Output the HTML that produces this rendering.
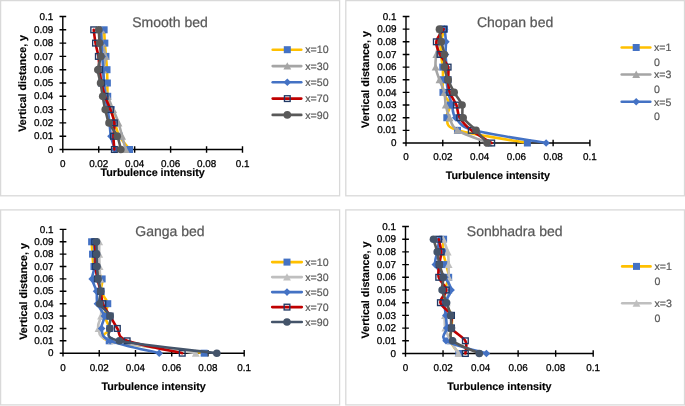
<!DOCTYPE html>
<html><head><meta charset="utf-8"><title>Turbulence intensity charts</title>
<style>
html,body{margin:0;padding:0;background:#fff;}
body{width:685px;height:406px;overflow:hidden;}
svg{display:block;will-change:transform;}
text{font-family:"Liberation Sans", sans-serif;}
</style></head><body>
<svg width="685" height="406" viewBox="0 0 685 406" font-family="Liberation Sans, sans-serif" text-rendering="geometricPrecision">
<rect width="685" height="406" fill="#fff"/>
<rect x="0.6" y="0.6" width="339" height="195.2" fill="none" stroke="#D9D9D9" stroke-width="1.3"/>
<text x="170" y="26.8" text-anchor="middle" font-size="14.0" fill="#595959" stroke="#595959" stroke-width="0.25">Smooth bed</text>
<path d="M62.8 16.5V149.5M62.8 149.5H242.5M59.5 149.5H66.2M59.5 136.2H66.2M59.5 122.9H66.2M59.5 109.6H66.2M59.5 96.3H66.2M59.5 83H66.2M59.5 69.7H66.2M59.5 56.4H66.2M59.5 43.1H66.2M59.5 29.8H66.2M59.5 16.5H66.2M62.8 146.3V152.7M98.74 146.3V152.7M134.68 146.3V152.7M170.62 146.3V152.7M206.56 146.3V152.7M242.5 146.3V152.7" stroke="#000000" stroke-width="1.4" fill="none"/>
<text transform="translate(53.2 152.64) scale(1.0 1)" text-anchor="end" font-size="9.9" stroke="#000" stroke-width="0.28">0</text>
<text transform="translate(53.2 139.34) scale(1.0 1)" text-anchor="end" font-size="9.9" stroke="#000" stroke-width="0.28">0.01</text>
<text transform="translate(53.2 126.04) scale(1.0 1)" text-anchor="end" font-size="9.9" stroke="#000" stroke-width="0.28">0.02</text>
<text transform="translate(53.2 112.74) scale(1.0 1)" text-anchor="end" font-size="9.9" stroke="#000" stroke-width="0.28">0.03</text>
<text transform="translate(53.2 99.44) scale(1.0 1)" text-anchor="end" font-size="9.9" stroke="#000" stroke-width="0.28">0.04</text>
<text transform="translate(53.2 86.14) scale(1.0 1)" text-anchor="end" font-size="9.9" stroke="#000" stroke-width="0.28">0.05</text>
<text transform="translate(53.2 72.84) scale(1.0 1)" text-anchor="end" font-size="9.9" stroke="#000" stroke-width="0.28">0.06</text>
<text transform="translate(53.2 59.54) scale(1.0 1)" text-anchor="end" font-size="9.9" stroke="#000" stroke-width="0.28">0.07</text>
<text transform="translate(53.2 46.24) scale(1.0 1)" text-anchor="end" font-size="9.9" stroke="#000" stroke-width="0.28">0.08</text>
<text transform="translate(53.2 32.94) scale(1.0 1)" text-anchor="end" font-size="9.9" stroke="#000" stroke-width="0.28">0.09</text>
<text transform="translate(53.2 19.64) scale(1.0 1)" text-anchor="end" font-size="9.9" stroke="#000" stroke-width="0.28">0.1</text>
<text transform="translate(62.8 166.99) scale(1.0 1)" text-anchor="middle" font-size="9.9" stroke="#000" stroke-width="0.28">0</text>
<text transform="translate(98.74 166.99) scale(1.0 1)" text-anchor="middle" font-size="9.9" stroke="#000" stroke-width="0.28">0.02</text>
<text transform="translate(134.68 166.99) scale(1.0 1)" text-anchor="middle" font-size="9.9" stroke="#000" stroke-width="0.28">0.04</text>
<text transform="translate(170.62 166.99) scale(1.0 1)" text-anchor="middle" font-size="9.9" stroke="#000" stroke-width="0.28">0.06</text>
<text transform="translate(206.56 166.99) scale(1.0 1)" text-anchor="middle" font-size="9.9" stroke="#000" stroke-width="0.28">0.08</text>
<text transform="translate(242.5 166.99) scale(1.0 1)" text-anchor="middle" font-size="9.9" stroke="#000" stroke-width="0.28">0.1</text>
<text x="152.65" y="175.6" text-anchor="middle" font-size="10.75" font-weight="bold" stroke="#000" stroke-width="0.15">Turbulence intensity</text>
<text transform="translate(26.3 83.3) rotate(-90)" text-anchor="middle" font-size="10.75" font-weight="bold" stroke="#000" stroke-width="0.15">Vertical distance, y</text>
<path d="M129.65 149.5C127.94 147.28 121.86 140.63 119.41 136.2C116.95 131.77 116.26 127.33 114.91 122.9C113.57 118.47 112.52 114.03 111.32 109.6C110.12 105.17 108.38 100.73 107.72 96.3C107.07 91.87 107.49 87.43 107.37 83C107.25 78.57 107.25 74.13 107.01 69.7C106.77 65.27 106.29 60.83 105.93 56.4C105.57 51.97 105.15 47.53 104.85 43.1C104.55 38.67 104.25 32.02 104.13 29.8" stroke="#FFC000" stroke-width="2.6" fill="none" stroke-linejoin="round" stroke-linecap="round"/>
<rect x="126.15" y="146" width="7" height="7" fill="#4472C4"/>
<rect x="115.91" y="132.7" width="7" height="7" fill="#4472C4"/>
<rect x="111.41" y="119.4" width="7" height="7" fill="#4472C4"/>
<rect x="107.82" y="106.1" width="7" height="7" fill="#4472C4"/>
<rect x="104.22" y="92.8" width="7" height="7" fill="#4472C4"/>
<rect x="103.87" y="79.5" width="7" height="7" fill="#4472C4"/>
<rect x="103.51" y="66.2" width="7" height="7" fill="#4472C4"/>
<rect x="102.43" y="52.9" width="7" height="7" fill="#4472C4"/>
<rect x="101.35" y="39.6" width="7" height="7" fill="#4472C4"/>
<rect x="100.63" y="26.3" width="7" height="7" fill="#4472C4"/>
<path d="M125.69 149.5C125.1 147.28 123.3 140.63 122.1 136.2C120.9 131.77 120 127.33 118.51 122.9C117.01 118.47 114.91 114.03 113.12 109.6C111.32 105.17 109.34 100.73 107.72 96.3C106.11 91.87 104.16 87.43 103.41 83C102.66 78.57 102.87 74.13 103.23 69.7C103.59 65.27 105.72 60.83 105.57 56.4C105.42 51.97 103.02 47.53 102.33 43.1C101.65 38.67 101.59 32.02 101.44 29.8" stroke="#A5A5A5" stroke-width="2.6" fill="none" stroke-linejoin="round" stroke-linecap="round"/>
<path d="M125.69 145.6L129.59 153L121.79 153Z" fill="#A5A5A5"/>
<path d="M122.1 132.3L126 139.7L118.2 139.7Z" fill="#A5A5A5"/>
<path d="M118.51 119L122.41 126.4L114.61 126.4Z" fill="#A5A5A5"/>
<path d="M113.12 105.7L117.02 113.1L109.22 113.1Z" fill="#A5A5A5"/>
<path d="M107.72 92.4L111.62 99.8L103.82 99.8Z" fill="#A5A5A5"/>
<path d="M103.41 79.1L107.31 86.5L99.51 86.5Z" fill="#A5A5A5"/>
<path d="M103.23 65.8L107.13 73.2L99.33 73.2Z" fill="#A5A5A5"/>
<path d="M105.57 52.5L109.47 59.9L101.67 59.9Z" fill="#A5A5A5"/>
<path d="M102.33 39.2L106.23 46.6L98.43 46.6Z" fill="#A5A5A5"/>
<path d="M101.44 25.9L105.34 33.3L97.54 33.3Z" fill="#A5A5A5"/>
<path d="M114.91 149.5C114.25 147.28 111.86 140.63 110.96 136.2C110.06 131.77 110.06 127.33 109.52 122.9C108.98 118.47 108.47 114.03 107.72 109.6C106.98 105.17 105.63 100.73 105.03 96.3C104.43 91.87 104.43 87.43 104.13 83C103.83 78.57 103.53 74.13 103.23 69.7C102.93 65.27 102.63 60.83 102.33 56.4C102.03 51.97 101.73 47.53 101.44 43.1C101.14 38.67 100.69 32.02 100.54 29.8" stroke="#4472C4" stroke-width="2.6" fill="none" stroke-linejoin="round" stroke-linecap="round"/>
<path d="M114.91 145.7L118.71 149.5L114.91 153.3L111.11 149.5Z" fill="#4472C4"/>
<path d="M110.96 132.4L114.76 136.2L110.96 140L107.16 136.2Z" fill="#4472C4"/>
<path d="M109.52 119.1L113.32 122.9L109.52 126.7L105.72 122.9Z" fill="#4472C4"/>
<path d="M107.72 105.8L111.52 109.6L107.72 113.4L103.92 109.6Z" fill="#4472C4"/>
<path d="M105.03 92.5L108.83 96.3L105.03 100.1L101.23 96.3Z" fill="#4472C4"/>
<path d="M104.13 79.2L107.93 83L104.13 86.8L100.33 83Z" fill="#4472C4"/>
<path d="M103.23 65.9L107.03 69.7L103.23 73.5L99.43 69.7Z" fill="#4472C4"/>
<path d="M102.33 52.6L106.13 56.4L102.33 60.2L98.53 56.4Z" fill="#4472C4"/>
<path d="M101.44 39.3L105.24 43.1L101.44 46.9L97.64 43.1Z" fill="#4472C4"/>
<path d="M100.54 26L104.34 29.8L100.54 33.6L96.74 29.8Z" fill="#4472C4"/>
<path d="M114.37 149.5C114.22 147.28 113.48 140.63 113.48 136.2C113.48 131.77 114.88 127.33 114.37 122.9C113.86 118.47 111.98 114.03 110.42 109.6C108.86 105.17 106.53 100.73 105.03 96.3C103.53 91.87 102.33 87.43 101.44 83C100.54 78.57 100.15 74.13 99.64 69.7C99.13 65.27 99.07 60.83 98.38 56.4C97.69 51.97 96.28 47.53 95.51 43.1C94.73 38.67 94.01 32.02 93.71 29.8" stroke="#C00000" stroke-width="2.6" fill="none" stroke-linejoin="round" stroke-linecap="round"/>
<rect x="111.52" y="146.65" width="5.7" height="5.7" fill="none" stroke="#203864" stroke-width="1.35"/>
<rect x="110.63" y="133.35" width="5.7" height="5.7" fill="none" stroke="#203864" stroke-width="1.35"/>
<rect x="111.52" y="120.05" width="5.7" height="5.7" fill="none" stroke="#203864" stroke-width="1.35"/>
<rect x="107.57" y="106.75" width="5.7" height="5.7" fill="none" stroke="#203864" stroke-width="1.35"/>
<rect x="102.18" y="93.45" width="5.7" height="5.7" fill="none" stroke="#203864" stroke-width="1.35"/>
<rect x="98.59" y="80.15" width="5.7" height="5.7" fill="none" stroke="#203864" stroke-width="1.35"/>
<rect x="96.79" y="66.85" width="5.7" height="5.7" fill="none" stroke="#203864" stroke-width="1.35"/>
<rect x="95.53" y="53.55" width="5.7" height="5.7" fill="none" stroke="#203864" stroke-width="1.35"/>
<rect x="92.66" y="40.25" width="5.7" height="5.7" fill="none" stroke="#203864" stroke-width="1.35"/>
<rect x="90.86" y="26.95" width="5.7" height="5.7" fill="none" stroke="#203864" stroke-width="1.35"/>
<path d="M120.84 149.5C120.24 147.28 119.23 140.63 117.25 136.2C115.27 131.77 110.99 127.33 108.98 122.9C106.98 118.47 106.26 114.03 105.21 109.6C104.16 105.17 103.47 100.73 102.69 96.3C101.91 91.87 101.35 87.43 100.54 83C99.73 78.57 97.78 74.13 97.84 69.7C97.9 65.27 100.6 60.83 100.9 56.4C101.2 51.97 100 47.53 99.64 43.1C99.28 38.67 98.89 32.02 98.74 29.8" stroke="#595959" stroke-width="2.6" fill="none" stroke-linejoin="round" stroke-linecap="round"/>
<circle cx="120.84" cy="149.5" r="3.8" fill="#595959"/>
<circle cx="117.25" cy="136.2" r="3.8" fill="#595959"/>
<circle cx="108.98" cy="122.9" r="3.8" fill="#595959"/>
<circle cx="105.21" cy="109.6" r="3.8" fill="#595959"/>
<circle cx="102.69" cy="96.3" r="3.8" fill="#595959"/>
<circle cx="100.54" cy="83" r="3.8" fill="#595959"/>
<circle cx="97.84" cy="69.7" r="3.8" fill="#595959"/>
<circle cx="100.9" cy="56.4" r="3.8" fill="#595959"/>
<circle cx="99.64" cy="43.1" r="3.8" fill="#595959"/>
<circle cx="98.74" cy="29.8" r="3.8" fill="#595959"/>
<path d="M272.7 49.7H301.3" stroke="#FFC000" stroke-width="2.6" stroke-linecap="round"/>
<rect x="283.8" y="46.2" width="7" height="7" fill="#4472C4"/>
<text x="305.3" y="53.49" font-size="10.6" fill="#595959" stroke="#595959" stroke-width="0.2">x=10</text>
<path d="M272.7 66.1H301.3" stroke="#A5A5A5" stroke-width="2.6" stroke-linecap="round"/>
<path d="M287.3 62.2L291.2 69.6L283.4 69.6Z" fill="#A5A5A5"/>
<text x="305.3" y="69.89" font-size="10.6" fill="#595959" stroke="#595959" stroke-width="0.2">x=30</text>
<path d="M272.7 82.3H301.3" stroke="#4472C4" stroke-width="2.6" stroke-linecap="round"/>
<path d="M287.3 78.5L291.1 82.3L287.3 86.1L283.5 82.3Z" fill="#4472C4"/>
<text x="305.3" y="86.09" font-size="10.6" fill="#595959" stroke="#595959" stroke-width="0.2">x=50</text>
<path d="M272.7 98.6H301.3" stroke="#C00000" stroke-width="2.6" stroke-linecap="round"/>
<rect x="284.45" y="95.75" width="5.7" height="5.7" fill="none" stroke="#203864" stroke-width="1.35"/>
<text x="305.3" y="102.39" font-size="10.6" fill="#595959" stroke="#595959" stroke-width="0.2">x=70</text>
<path d="M272.7 114.9H301.3" stroke="#595959" stroke-width="2.6" stroke-linecap="round"/>
<circle cx="287.3" cy="114.9" r="3.8" fill="#595959"/>
<text x="305.3" y="118.69" font-size="10.6" fill="#595959" stroke="#595959" stroke-width="0.2">x=90</text>
<rect x="345.8" y="0.6" width="338.7" height="195.2" fill="none" stroke="#D9D9D9" stroke-width="1.3"/>
<text x="515.1" y="26.8" text-anchor="middle" font-size="14.0" fill="#595959" stroke="#595959" stroke-width="0.25">Chopan bed</text>
<path d="M406 16.5V143M406 143H589.9M402.7 143H409.4M402.7 130.35H409.4M402.7 117.7H409.4M402.7 105.05H409.4M402.7 92.4H409.4M402.7 79.75H409.4M402.7 67.1H409.4M402.7 54.45H409.4M402.7 41.8H409.4M402.7 29.15H409.4M402.7 16.5H409.4M406 139.8V146.2M442.78 139.8V146.2M479.56 139.8V146.2M516.34 139.8V146.2M553.12 139.8V146.2M589.9 139.8V146.2" stroke="#000000" stroke-width="1.4" fill="none"/>
<text transform="translate(396.4 146.14) scale(1.0 1)" text-anchor="end" font-size="9.9" stroke="#000" stroke-width="0.28">0</text>
<text transform="translate(396.4 133.49) scale(1.0 1)" text-anchor="end" font-size="9.9" stroke="#000" stroke-width="0.28">0.01</text>
<text transform="translate(396.4 120.84) scale(1.0 1)" text-anchor="end" font-size="9.9" stroke="#000" stroke-width="0.28">0.02</text>
<text transform="translate(396.4 108.19) scale(1.0 1)" text-anchor="end" font-size="9.9" stroke="#000" stroke-width="0.28">0.03</text>
<text transform="translate(396.4 95.54) scale(1.0 1)" text-anchor="end" font-size="9.9" stroke="#000" stroke-width="0.28">0.04</text>
<text transform="translate(396.4 82.89) scale(1.0 1)" text-anchor="end" font-size="9.9" stroke="#000" stroke-width="0.28">0.05</text>
<text transform="translate(396.4 70.24) scale(1.0 1)" text-anchor="end" font-size="9.9" stroke="#000" stroke-width="0.28">0.06</text>
<text transform="translate(396.4 57.59) scale(1.0 1)" text-anchor="end" font-size="9.9" stroke="#000" stroke-width="0.28">0.07</text>
<text transform="translate(396.4 44.94) scale(1.0 1)" text-anchor="end" font-size="9.9" stroke="#000" stroke-width="0.28">0.08</text>
<text transform="translate(396.4 32.29) scale(1.0 1)" text-anchor="end" font-size="9.9" stroke="#000" stroke-width="0.28">0.09</text>
<text transform="translate(396.4 19.64) scale(1.0 1)" text-anchor="end" font-size="9.9" stroke="#000" stroke-width="0.28">0.1</text>
<text transform="translate(406 159.59) scale(1.0 1)" text-anchor="middle" font-size="9.9" stroke="#000" stroke-width="0.28">0</text>
<text transform="translate(442.78 159.59) scale(1.0 1)" text-anchor="middle" font-size="9.9" stroke="#000" stroke-width="0.28">0.02</text>
<text transform="translate(479.56 159.59) scale(1.0 1)" text-anchor="middle" font-size="9.9" stroke="#000" stroke-width="0.28">0.04</text>
<text transform="translate(516.34 159.59) scale(1.0 1)" text-anchor="middle" font-size="9.9" stroke="#000" stroke-width="0.28">0.06</text>
<text transform="translate(553.12 159.59) scale(1.0 1)" text-anchor="middle" font-size="9.9" stroke="#000" stroke-width="0.28">0.08</text>
<text transform="translate(589.9 159.59) scale(1.0 1)" text-anchor="middle" font-size="9.9" stroke="#000" stroke-width="0.28">0.1</text>
<text x="497.95" y="179" text-anchor="middle" font-size="10.75" font-weight="bold" stroke="#000" stroke-width="0.15">Turbulence intensity</text>
<text transform="translate(369.3 79.5) rotate(-90)" text-anchor="middle" font-size="10.75" font-weight="bold" stroke="#000" stroke-width="0.15">Vertical distance, y</text>
<path d="M527.37 143C515.73 140.89 470.92 134.57 457.49 130.35C444.07 126.13 448.05 121.92 446.83 117.7C445.6 113.48 450.78 109.27 450.14 105.05C449.49 100.83 444.16 96.62 442.96 92.4C441.77 88.18 442.99 83.97 442.96 79.75C442.93 75.53 443.12 71.32 442.78 67.1C442.44 62.88 441.25 58.67 440.94 54.45C440.63 50.23 440.36 46.02 440.94 41.8C441.52 37.58 443.85 31.26 444.44 29.15" stroke="#FFC000" stroke-width="2.6" fill="none" stroke-linejoin="round" stroke-linecap="round"/>
<rect x="523.87" y="139.5" width="7" height="7" fill="#4472C4"/>
<rect x="453.99" y="126.85" width="7" height="7" fill="#4472C4"/>
<rect x="443.33" y="114.2" width="7" height="7" fill="#4472C4"/>
<rect x="446.64" y="101.55" width="7" height="7" fill="#4472C4"/>
<rect x="439.46" y="88.9" width="7" height="7" fill="#4472C4"/>
<rect x="439.46" y="76.25" width="7" height="7" fill="#4472C4"/>
<rect x="439.28" y="63.6" width="7" height="7" fill="#4472C4"/>
<rect x="437.44" y="50.95" width="7" height="7" fill="#4472C4"/>
<rect x="437.44" y="38.3" width="7" height="7" fill="#4472C4"/>
<rect x="440.94" y="25.65" width="7" height="7" fill="#4472C4"/>
<path d="M488.75 143C483.54 140.89 464.02 134.57 457.49 130.35C450.96 126.13 451.55 121.92 449.58 117.7C447.62 113.48 446.58 109.27 445.72 105.05C444.86 100.83 445.48 96.62 444.44 92.4C443.39 88.18 440.94 83.97 439.47 79.75C438 75.53 436.13 71.32 435.61 67.1C435.09 62.88 435.76 58.67 436.34 54.45C436.93 50.23 438.49 46.02 439.1 41.8C439.71 37.58 439.87 31.26 440.02 29.15" stroke="#A5A5A5" stroke-width="2.6" fill="none" stroke-linejoin="round" stroke-linecap="round"/>
<path d="M488.75 139.1L492.65 146.5L484.86 146.5Z" fill="#A5A5A5"/>
<path d="M457.49 126.45L461.39 133.85L453.59 133.85Z" fill="#A5A5A5"/>
<path d="M449.58 113.8L453.48 121.2L445.68 121.2Z" fill="#A5A5A5"/>
<path d="M445.72 101.15L449.62 108.55L441.82 108.55Z" fill="#A5A5A5"/>
<path d="M444.44 88.5L448.34 95.9L440.54 95.9Z" fill="#A5A5A5"/>
<path d="M439.47 75.85L443.37 83.25L435.57 83.25Z" fill="#A5A5A5"/>
<path d="M435.61 63.2L439.51 70.6L431.71 70.6Z" fill="#A5A5A5"/>
<path d="M436.34 50.55L440.24 57.95L432.44 57.95Z" fill="#A5A5A5"/>
<path d="M439.1 37.9L443 45.3L435.2 45.3Z" fill="#A5A5A5"/>
<path d="M440.02 25.25L443.92 32.65L436.12 32.65Z" fill="#A5A5A5"/>
<path d="M546.13 143C534.12 140.89 489.12 134.57 474.04 130.35C458.96 126.13 459.33 121.92 455.65 117.7C451.98 113.48 453.2 109.27 451.98 105.05C450.75 100.83 449.22 96.62 448.3 92.4C447.38 88.18 446.76 83.97 446.46 79.75C446.15 75.53 446.61 71.32 446.46 67.1C446.3 62.88 445.63 58.67 445.54 54.45C445.45 50.23 446.06 46.02 445.91 41.8C445.75 37.58 444.83 31.26 444.62 29.15" stroke="#4472C4" stroke-width="2.6" fill="none" stroke-linejoin="round" stroke-linecap="round"/>
<path d="M546.13 139.2L549.93 143L546.13 146.8L542.33 143Z" fill="#4472C4"/>
<path d="M474.04 126.55L477.84 130.35L474.04 134.15L470.24 130.35Z" fill="#4472C4"/>
<path d="M455.65 113.9L459.45 117.7L455.65 121.5L451.85 117.7Z" fill="#4472C4"/>
<path d="M451.98 101.25L455.78 105.05L451.98 108.85L448.18 105.05Z" fill="#4472C4"/>
<path d="M448.3 88.6L452.1 92.4L448.3 96.2L444.5 92.4Z" fill="#4472C4"/>
<path d="M446.46 75.95L450.26 79.75L446.46 83.55L442.66 79.75Z" fill="#4472C4"/>
<path d="M446.46 63.3L450.26 67.1L446.46 70.9L442.66 67.1Z" fill="#4472C4"/>
<path d="M445.54 50.65L449.34 54.45L445.54 58.25L441.74 54.45Z" fill="#4472C4"/>
<path d="M445.91 38L449.71 41.8L445.91 45.6L442.11 41.8Z" fill="#4472C4"/>
<path d="M444.62 25.35L448.42 29.15L444.62 32.95L440.82 29.15Z" fill="#4472C4"/>
<path d="M491.7 143C488.3 140.89 476.62 134.57 471.28 130.35C465.95 126.13 462.18 121.92 459.7 117.7C457.22 113.48 458.04 109.27 456.39 105.05C454.73 100.83 451.15 96.62 449.77 92.4C448.39 88.18 448.39 83.97 448.11 79.75C447.84 75.53 449.46 71.32 448.11 67.1C446.76 62.88 441.98 58.67 440.02 54.45C438.06 50.23 435.73 46.02 436.34 41.8C436.96 37.58 442.47 31.26 443.7 29.15" stroke="#C00000" stroke-width="2.6" fill="none" stroke-linejoin="round" stroke-linecap="round"/>
<rect x="488.85" y="140.15" width="5.7" height="5.7" fill="none" stroke="#203864" stroke-width="1.35"/>
<rect x="468.43" y="127.5" width="5.7" height="5.7" fill="none" stroke="#203864" stroke-width="1.35"/>
<rect x="456.85" y="114.85" width="5.7" height="5.7" fill="none" stroke="#203864" stroke-width="1.35"/>
<rect x="453.54" y="102.2" width="5.7" height="5.7" fill="none" stroke="#203864" stroke-width="1.35"/>
<rect x="446.92" y="89.55" width="5.7" height="5.7" fill="none" stroke="#203864" stroke-width="1.35"/>
<rect x="445.26" y="76.9" width="5.7" height="5.7" fill="none" stroke="#203864" stroke-width="1.35"/>
<rect x="445.26" y="64.25" width="5.7" height="5.7" fill="none" stroke="#203864" stroke-width="1.35"/>
<rect x="437.17" y="51.6" width="5.7" height="5.7" fill="none" stroke="#203864" stroke-width="1.35"/>
<rect x="433.49" y="38.95" width="5.7" height="5.7" fill="none" stroke="#203864" stroke-width="1.35"/>
<rect x="440.85" y="26.3" width="5.7" height="5.7" fill="none" stroke="#203864" stroke-width="1.35"/>
<path d="M487.1 143C485.26 140.89 480.05 134.57 476.07 130.35C472.08 126.13 465.52 121.92 463.19 117.7C460.86 113.48 463.59 109.27 462.09 105.05C460.59 100.83 456.51 96.62 454.18 92.4C451.85 88.18 449.74 83.97 448.11 79.75C446.49 75.53 445.05 71.32 444.44 67.1C443.82 62.88 444.96 58.67 444.44 54.45C443.91 50.23 442.14 46.02 441.31 41.8C440.48 37.58 439.78 31.26 439.47 29.15" stroke="#595959" stroke-width="2.6" fill="none" stroke-linejoin="round" stroke-linecap="round"/>
<circle cx="487.1" cy="143" r="3.8" fill="#595959"/>
<circle cx="476.07" cy="130.35" r="3.8" fill="#595959"/>
<circle cx="463.19" cy="117.7" r="3.8" fill="#595959"/>
<circle cx="462.09" cy="105.05" r="3.8" fill="#595959"/>
<circle cx="454.18" cy="92.4" r="3.8" fill="#595959"/>
<circle cx="448.11" cy="79.75" r="3.8" fill="#595959"/>
<circle cx="444.44" cy="67.1" r="3.8" fill="#595959"/>
<circle cx="444.44" cy="54.45" r="3.8" fill="#595959"/>
<circle cx="441.31" cy="41.8" r="3.8" fill="#595959"/>
<circle cx="439.47" cy="29.15" r="3.8" fill="#595959"/>
<path d="M621.7 47.5H650.3" stroke="#FFC000" stroke-width="2.6" stroke-linecap="round"/>
<rect x="632.7" y="44" width="7" height="7" fill="#4472C4"/>
<text x="654" y="51.29" font-size="10.6" fill="#595959" stroke="#595959" stroke-width="0.2">x=1</text>
<text x="654" y="66.09" font-size="10.6" fill="#595959" stroke="#595959" stroke-width="0.2">0</text>
<path d="M621.7 74.5H650.3" stroke="#A5A5A5" stroke-width="2.6" stroke-linecap="round"/>
<path d="M636.2 70.6L640.1 78L632.3 78Z" fill="#A5A5A5"/>
<text x="654" y="78.29" font-size="10.6" fill="#595959" stroke="#595959" stroke-width="0.2">x=3</text>
<text x="654" y="93.09" font-size="10.6" fill="#595959" stroke="#595959" stroke-width="0.2">0</text>
<path d="M621.7 101.8H650.3" stroke="#4472C4" stroke-width="2.6" stroke-linecap="round"/>
<path d="M636.2 98L640 101.8L636.2 105.6L632.4 101.8Z" fill="#4472C4"/>
<text x="654" y="105.59" font-size="10.6" fill="#595959" stroke="#595959" stroke-width="0.2">x=5</text>
<text x="654" y="120.39" font-size="10.6" fill="#595959" stroke="#595959" stroke-width="0.2">0</text>
<rect x="0.6" y="209.9" width="339" height="195" fill="none" stroke="#D9D9D9" stroke-width="1.3"/>
<text x="170" y="235.9" text-anchor="middle" font-size="14.0" fill="#595959" stroke="#595959" stroke-width="0.25">Ganga bed</text>
<path d="M63 229.4V353.2M63 353.2H244.2M59.7 353.2H66.4M59.7 340.82H66.4M59.7 328.44H66.4M59.7 316.06H66.4M59.7 303.68H66.4M59.7 291.3H66.4M59.7 278.92H66.4M59.7 266.54H66.4M59.7 254.16H66.4M59.7 241.78H66.4M59.7 229.4H66.4M63 350V356.4M99.24 350V356.4M135.48 350V356.4M171.72 350V356.4M207.96 350V356.4M244.2 350V356.4" stroke="#000000" stroke-width="1.4" fill="none"/>
<text transform="translate(53.4 356.34) scale(1.0 1)" text-anchor="end" font-size="9.9" stroke="#000" stroke-width="0.28">0</text>
<text transform="translate(53.4 343.96) scale(1.0 1)" text-anchor="end" font-size="9.9" stroke="#000" stroke-width="0.28">0.01</text>
<text transform="translate(53.4 331.58) scale(1.0 1)" text-anchor="end" font-size="9.9" stroke="#000" stroke-width="0.28">0.02</text>
<text transform="translate(53.4 319.2) scale(1.0 1)" text-anchor="end" font-size="9.9" stroke="#000" stroke-width="0.28">0.03</text>
<text transform="translate(53.4 306.82) scale(1.0 1)" text-anchor="end" font-size="9.9" stroke="#000" stroke-width="0.28">0.04</text>
<text transform="translate(53.4 294.44) scale(1.0 1)" text-anchor="end" font-size="9.9" stroke="#000" stroke-width="0.28">0.05</text>
<text transform="translate(53.4 282.06) scale(1.0 1)" text-anchor="end" font-size="9.9" stroke="#000" stroke-width="0.28">0.06</text>
<text transform="translate(53.4 269.68) scale(1.0 1)" text-anchor="end" font-size="9.9" stroke="#000" stroke-width="0.28">0.07</text>
<text transform="translate(53.4 257.3) scale(1.0 1)" text-anchor="end" font-size="9.9" stroke="#000" stroke-width="0.28">0.08</text>
<text transform="translate(53.4 244.92) scale(1.0 1)" text-anchor="end" font-size="9.9" stroke="#000" stroke-width="0.28">0.09</text>
<text transform="translate(53.4 232.54) scale(1.0 1)" text-anchor="end" font-size="9.9" stroke="#000" stroke-width="0.28">0.1</text>
<text transform="translate(63 370.69) scale(1.0 1)" text-anchor="middle" font-size="9.9" stroke="#000" stroke-width="0.28">0</text>
<text transform="translate(99.24 370.69) scale(1.0 1)" text-anchor="middle" font-size="9.9" stroke="#000" stroke-width="0.28">0.02</text>
<text transform="translate(135.48 370.69) scale(1.0 1)" text-anchor="middle" font-size="9.9" stroke="#000" stroke-width="0.28">0.04</text>
<text transform="translate(171.72 370.69) scale(1.0 1)" text-anchor="middle" font-size="9.9" stroke="#000" stroke-width="0.28">0.06</text>
<text transform="translate(207.96 370.69) scale(1.0 1)" text-anchor="middle" font-size="9.9" stroke="#000" stroke-width="0.28">0.08</text>
<text transform="translate(244.2 370.69) scale(1.0 1)" text-anchor="middle" font-size="9.9" stroke="#000" stroke-width="0.28">0.1</text>
<text x="153.6" y="389.5" text-anchor="middle" font-size="10.75" font-weight="bold" stroke="#000" stroke-width="0.15">Turbulence intensity</text>
<text transform="translate(26.5 291.4) rotate(-90)" text-anchor="middle" font-size="10.75" font-weight="bold" stroke="#000" stroke-width="0.15">Vertical distance, y</text>
<path d="M204.15 353.2C188.33 351.14 124.94 344.95 109.21 340.82C93.47 336.69 110.5 332.57 109.75 328.44C108.99 324.31 105.01 320.19 104.68 316.06C104.34 311.93 108.36 307.81 107.76 303.68C107.15 299.55 101.99 295.43 101.05 291.3C100.12 287.17 103.32 283.05 102.14 278.92C100.96 274.79 95.59 270.67 93.99 266.54C92.38 262.41 92.93 258.29 92.54 254.16C92.14 250.03 91.78 243.84 91.63 241.78" stroke="#FFC000" stroke-width="2.6" fill="none" stroke-linejoin="round" stroke-linecap="round"/>
<rect x="200.65" y="349.7" width="7" height="7" fill="#4472C4"/>
<rect x="105.71" y="337.32" width="7" height="7" fill="#4472C4"/>
<rect x="106.25" y="324.94" width="7" height="7" fill="#4472C4"/>
<rect x="101.18" y="312.56" width="7" height="7" fill="#4472C4"/>
<rect x="104.26" y="300.18" width="7" height="7" fill="#4472C4"/>
<rect x="97.55" y="287.8" width="7" height="7" fill="#4472C4"/>
<rect x="98.64" y="275.42" width="7" height="7" fill="#4472C4"/>
<rect x="90.49" y="263.04" width="7" height="7" fill="#4472C4"/>
<rect x="89.04" y="250.66" width="7" height="7" fill="#4472C4"/>
<rect x="88.13" y="238.28" width="7" height="7" fill="#4472C4"/>
<path d="M195.82 353.2C181.84 351.14 128.14 344.95 111.92 340.82C95.71 336.69 100.33 332.57 98.52 328.44C96.7 324.31 100.63 320.19 101.05 316.06C101.47 311.93 101.2 307.81 101.05 303.68C100.9 299.55 100.3 295.43 100.15 291.3C99.99 287.17 100.24 283.05 100.15 278.92C100.06 274.79 99.75 270.67 99.6 266.54C99.45 262.41 99.3 258.29 99.24 254.16C99.18 250.03 99.24 243.84 99.24 241.78" stroke="#BFBFBF" stroke-width="2.6" fill="none" stroke-linejoin="round" stroke-linecap="round"/>
<path d="M195.82 349.3L199.72 356.7L191.92 356.7Z" fill="#BFBFBF"/>
<path d="M111.92 336.92L115.82 344.32L108.02 344.32Z" fill="#BFBFBF"/>
<path d="M98.52 324.54L102.42 331.94L94.62 331.94Z" fill="#BFBFBF"/>
<path d="M101.05 312.16L104.95 319.56L97.15 319.56Z" fill="#BFBFBF"/>
<path d="M101.05 299.78L104.95 307.18L97.15 307.18Z" fill="#BFBFBF"/>
<path d="M100.15 287.4L104.05 294.8L96.25 294.8Z" fill="#BFBFBF"/>
<path d="M100.15 275.02L104.05 282.42L96.25 282.42Z" fill="#BFBFBF"/>
<path d="M99.6 262.64L103.5 270.04L95.7 270.04Z" fill="#BFBFBF"/>
<path d="M99.24 250.26L103.14 257.66L95.34 257.66Z" fill="#BFBFBF"/>
<path d="M99.24 237.88L103.14 245.28L95.34 245.28Z" fill="#BFBFBF"/>
<path d="M159.22 353.2C151.03 351.14 119.72 344.95 110.11 340.82C100.51 336.69 102.56 332.57 101.6 328.44C100.63 324.31 105.01 320.19 104.31 316.06C103.62 311.93 98.73 307.81 97.43 303.68C96.13 299.55 97.4 295.43 96.52 291.3C95.65 287.17 92.48 283.05 92.17 278.92C91.87 274.79 94.29 270.67 94.71 266.54C95.13 262.41 94.86 258.29 94.71 254.16C94.56 250.03 93.95 243.84 93.8 241.78" stroke="#4472C4" stroke-width="2.6" fill="none" stroke-linejoin="round" stroke-linecap="round"/>
<path d="M159.22 349.4L163.02 353.2L159.22 357L155.42 353.2Z" fill="#4472C4"/>
<path d="M110.11 337.02L113.91 340.82L110.11 344.62L106.31 340.82Z" fill="#4472C4"/>
<path d="M101.6 324.64L105.4 328.44L101.6 332.24L97.8 328.44Z" fill="#4472C4"/>
<path d="M104.31 312.26L108.11 316.06L104.31 319.86L100.51 316.06Z" fill="#4472C4"/>
<path d="M97.43 299.88L101.23 303.68L97.43 307.48L93.63 303.68Z" fill="#4472C4"/>
<path d="M96.52 287.5L100.32 291.3L96.52 295.1L92.72 291.3Z" fill="#4472C4"/>
<path d="M92.17 275.12L95.97 278.92L92.17 282.72L88.37 278.92Z" fill="#4472C4"/>
<path d="M94.71 262.74L98.51 266.54L94.71 270.34L90.91 266.54Z" fill="#4472C4"/>
<path d="M94.71 250.36L98.51 254.16L94.71 257.96L90.91 254.16Z" fill="#4472C4"/>
<path d="M93.8 237.98L97.6 241.78L93.8 245.58L90 241.78Z" fill="#4472C4"/>
<path d="M182.23 353.2C173.05 351.14 137.96 344.95 127.14 340.82C116.33 336.69 120.2 332.57 117.36 328.44C114.52 324.31 112.53 320.19 110.11 316.06C107.7 311.93 104.43 307.81 102.86 303.68C101.29 299.55 101.6 295.43 100.69 291.3C99.78 287.17 98.27 283.05 97.43 278.92C96.58 274.79 95.92 270.67 95.62 266.54C95.31 262.41 95.77 258.29 95.62 254.16C95.46 250.03 94.86 243.84 94.71 241.78" stroke="#C00000" stroke-width="2.6" fill="none" stroke-linejoin="round" stroke-linecap="round"/>
<rect x="179.38" y="350.35" width="5.7" height="5.7" fill="none" stroke="#203864" stroke-width="1.35"/>
<rect x="124.29" y="337.97" width="5.7" height="5.7" fill="none" stroke="#203864" stroke-width="1.35"/>
<rect x="114.51" y="325.59" width="5.7" height="5.7" fill="none" stroke="#203864" stroke-width="1.35"/>
<rect x="107.26" y="313.21" width="5.7" height="5.7" fill="none" stroke="#203864" stroke-width="1.35"/>
<rect x="100.01" y="300.83" width="5.7" height="5.7" fill="none" stroke="#203864" stroke-width="1.35"/>
<rect x="97.84" y="288.45" width="5.7" height="5.7" fill="none" stroke="#203864" stroke-width="1.35"/>
<rect x="94.58" y="276.07" width="5.7" height="5.7" fill="none" stroke="#203864" stroke-width="1.35"/>
<rect x="92.77" y="263.69" width="5.7" height="5.7" fill="none" stroke="#203864" stroke-width="1.35"/>
<rect x="92.77" y="251.31" width="5.7" height="5.7" fill="none" stroke="#203864" stroke-width="1.35"/>
<rect x="91.86" y="238.93" width="5.7" height="5.7" fill="none" stroke="#203864" stroke-width="1.35"/>
<path d="M216.84 353.2C200.59 351.14 137.2 344.95 119.35 340.82C101.5 336.69 111.29 332.57 109.75 328.44C108.21 324.31 111.77 320.19 110.11 316.06C108.45 311.93 101.35 307.81 99.78 303.68C98.21 299.55 100.96 295.43 100.69 291.3C100.42 287.17 98.76 283.05 98.15 278.92C97.55 274.79 97.31 270.67 97.07 266.54C96.82 262.41 96.79 258.29 96.7 254.16C96.61 250.03 96.55 243.84 96.52 241.78" stroke="#44546A" stroke-width="2.6" fill="none" stroke-linejoin="round" stroke-linecap="round"/>
<circle cx="216.84" cy="353.2" r="3.8" fill="#44546A"/>
<circle cx="119.35" cy="340.82" r="3.8" fill="#44546A"/>
<circle cx="109.75" cy="328.44" r="3.8" fill="#44546A"/>
<circle cx="110.11" cy="316.06" r="3.8" fill="#44546A"/>
<circle cx="99.78" cy="303.68" r="3.8" fill="#44546A"/>
<circle cx="100.69" cy="291.3" r="3.8" fill="#44546A"/>
<circle cx="98.15" cy="278.92" r="3.8" fill="#44546A"/>
<circle cx="97.07" cy="266.54" r="3.8" fill="#44546A"/>
<circle cx="96.7" cy="254.16" r="3.8" fill="#44546A"/>
<circle cx="96.52" cy="241.78" r="3.8" fill="#44546A"/>
<path d="M272.2 262.1H301.8" stroke="#FFC000" stroke-width="2.6" stroke-linecap="round"/>
<rect x="283.5" y="258.6" width="7" height="7" fill="#4472C4"/>
<text x="305.3" y="265.89" font-size="10.6" fill="#595959" stroke="#595959" stroke-width="0.2">x=10</text>
<path d="M272.2 277.1H301.8" stroke="#BFBFBF" stroke-width="2.6" stroke-linecap="round"/>
<path d="M287 273.2L290.9 280.6L283.1 280.6Z" fill="#BFBFBF"/>
<text x="305.3" y="280.89" font-size="10.6" fill="#595959" stroke="#595959" stroke-width="0.2">x=30</text>
<path d="M272.2 292.1H301.8" stroke="#4472C4" stroke-width="2.6" stroke-linecap="round"/>
<path d="M287 288.3L290.8 292.1L287 295.9L283.2 292.1Z" fill="#4472C4"/>
<text x="305.3" y="295.89" font-size="10.6" fill="#595959" stroke="#595959" stroke-width="0.2">x=50</text>
<path d="M272.2 307.1H301.8" stroke="#C00000" stroke-width="2.6" stroke-linecap="round"/>
<rect x="284.15" y="304.25" width="5.7" height="5.7" fill="none" stroke="#203864" stroke-width="1.35"/>
<text x="305.3" y="310.89" font-size="10.6" fill="#595959" stroke="#595959" stroke-width="0.2">x=70</text>
<path d="M272.2 322H301.8" stroke="#44546A" stroke-width="2.6" stroke-linecap="round"/>
<circle cx="287" cy="322" r="3.8" fill="#44546A"/>
<text x="305.3" y="325.79" font-size="10.6" fill="#595959" stroke="#595959" stroke-width="0.2">x=90</text>
<rect x="345.8" y="209.9" width="338.7" height="195" fill="none" stroke="#D9D9D9" stroke-width="1.3"/>
<text x="514.7" y="236" text-anchor="middle" font-size="14.0" fill="#595959" stroke="#595959" stroke-width="0.25">Sonbhadra bed</text>
<path d="M405.5 226.5V353.5M405.5 353.5H593.2M402.2 353.5H408.9M402.2 340.8H408.9M402.2 328.1H408.9M402.2 315.4H408.9M402.2 302.7H408.9M402.2 290H408.9M402.2 277.3H408.9M402.2 264.6H408.9M402.2 251.9H408.9M402.2 239.2H408.9M402.2 226.5H408.9M405.5 350.3V356.7M443.04 350.3V356.7M480.58 350.3V356.7M518.12 350.3V356.7M555.66 350.3V356.7M593.2 350.3V356.7" stroke="#000000" stroke-width="1.4" fill="none"/>
<text transform="translate(395.9 356.64) scale(1.0 1)" text-anchor="end" font-size="9.9" stroke="#000" stroke-width="0.28">0</text>
<text transform="translate(395.9 343.94) scale(1.0 1)" text-anchor="end" font-size="9.9" stroke="#000" stroke-width="0.28">0.01</text>
<text transform="translate(395.9 331.24) scale(1.0 1)" text-anchor="end" font-size="9.9" stroke="#000" stroke-width="0.28">0.02</text>
<text transform="translate(395.9 318.54) scale(1.0 1)" text-anchor="end" font-size="9.9" stroke="#000" stroke-width="0.28">0.03</text>
<text transform="translate(395.9 305.84) scale(1.0 1)" text-anchor="end" font-size="9.9" stroke="#000" stroke-width="0.28">0.04</text>
<text transform="translate(395.9 293.14) scale(1.0 1)" text-anchor="end" font-size="9.9" stroke="#000" stroke-width="0.28">0.05</text>
<text transform="translate(395.9 280.44) scale(1.0 1)" text-anchor="end" font-size="9.9" stroke="#000" stroke-width="0.28">0.06</text>
<text transform="translate(395.9 267.74) scale(1.0 1)" text-anchor="end" font-size="9.9" stroke="#000" stroke-width="0.28">0.07</text>
<text transform="translate(395.9 255.04) scale(1.0 1)" text-anchor="end" font-size="9.9" stroke="#000" stroke-width="0.28">0.08</text>
<text transform="translate(395.9 242.34) scale(1.0 1)" text-anchor="end" font-size="9.9" stroke="#000" stroke-width="0.28">0.09</text>
<text transform="translate(395.9 229.64) scale(1.0 1)" text-anchor="end" font-size="9.9" stroke="#000" stroke-width="0.28">0.1</text>
<text transform="translate(405.5 370.99) scale(1.0 1)" text-anchor="middle" font-size="9.9" stroke="#000" stroke-width="0.28">0</text>
<text transform="translate(443.04 370.99) scale(1.0 1)" text-anchor="middle" font-size="9.9" stroke="#000" stroke-width="0.28">0.02</text>
<text transform="translate(480.58 370.99) scale(1.0 1)" text-anchor="middle" font-size="9.9" stroke="#000" stroke-width="0.28">0.04</text>
<text transform="translate(518.12 370.99) scale(1.0 1)" text-anchor="middle" font-size="9.9" stroke="#000" stroke-width="0.28">0.06</text>
<text transform="translate(555.66 370.99) scale(1.0 1)" text-anchor="middle" font-size="9.9" stroke="#000" stroke-width="0.28">0.08</text>
<text transform="translate(593.2 370.99) scale(1.0 1)" text-anchor="middle" font-size="9.9" stroke="#000" stroke-width="0.28">0.1</text>
<text x="499.35" y="389.5" text-anchor="middle" font-size="10.75" font-weight="bold" stroke="#000" stroke-width="0.15">Turbulence intensity</text>
<text transform="translate(369.3 290) rotate(-90)" text-anchor="middle" font-size="10.75" font-weight="bold" stroke="#000" stroke-width="0.15">Vertical distance, y</text>
<path d="M458.81 353.5C457.43 351.38 451.77 345.03 450.55 340.8C449.33 336.57 451.33 332.33 451.49 328.1C451.64 323.87 452.58 319.63 451.49 315.4C450.39 311.17 446.01 306.93 444.92 302.7C443.82 298.47 444.29 294.23 444.92 290C445.54 285.77 448.45 281.53 448.67 277.3C448.89 273.07 447.17 268.83 446.23 264.6C445.29 260.37 443.48 256.13 443.04 251.9C442.6 247.67 443.51 241.32 443.6 239.2" stroke="#FFC000" stroke-width="2.6" fill="none" stroke-linejoin="round" stroke-linecap="round"/>
<rect x="455.31" y="350" width="7" height="7" fill="#4472C4"/>
<rect x="447.05" y="337.3" width="7" height="7" fill="#4472C4"/>
<rect x="447.99" y="324.6" width="7" height="7" fill="#4472C4"/>
<rect x="447.99" y="311.9" width="7" height="7" fill="#4472C4"/>
<rect x="441.42" y="299.2" width="7" height="7" fill="#4472C4"/>
<rect x="441.42" y="286.5" width="7" height="7" fill="#4472C4"/>
<rect x="445.17" y="273.8" width="7" height="7" fill="#4472C4"/>
<rect x="442.73" y="261.1" width="7" height="7" fill="#4472C4"/>
<rect x="439.54" y="248.4" width="7" height="7" fill="#4472C4"/>
<rect x="440.1" y="235.7" width="7" height="7" fill="#4472C4"/>
<path d="M458.43 353.5C457.12 351.38 452.74 345.03 450.55 340.8C448.36 336.57 446.23 332.33 445.29 328.1C444.35 323.87 444.67 319.63 444.92 315.4C445.17 311.17 446.17 306.93 446.79 302.7C447.42 298.47 448.36 294.23 448.67 290C448.98 285.77 448.67 281.53 448.67 277.3C448.67 273.07 448.83 268.83 448.67 264.6C448.51 260.37 448.64 256.13 447.73 251.9C446.83 247.67 443.98 241.32 443.23 239.2" stroke="#BFBFBF" stroke-width="2.6" fill="none" stroke-linejoin="round" stroke-linecap="round"/>
<path d="M458.43 349.6L462.33 357L454.53 357Z" fill="#BFBFBF"/>
<path d="M450.55 336.9L454.45 344.3L446.65 344.3Z" fill="#BFBFBF"/>
<path d="M445.29 324.2L449.19 331.6L441.39 331.6Z" fill="#BFBFBF"/>
<path d="M444.92 311.5L448.82 318.9L441.02 318.9Z" fill="#BFBFBF"/>
<path d="M446.79 298.8L450.69 306.2L442.89 306.2Z" fill="#BFBFBF"/>
<path d="M448.67 286.1L452.57 293.5L444.77 293.5Z" fill="#BFBFBF"/>
<path d="M448.67 273.4L452.57 280.8L444.77 280.8Z" fill="#BFBFBF"/>
<path d="M448.67 260.7L452.57 268.1L444.77 268.1Z" fill="#BFBFBF"/>
<path d="M447.73 248L451.63 255.4L443.83 255.4Z" fill="#BFBFBF"/>
<path d="M443.23 235.3L447.13 242.7L439.33 242.7Z" fill="#BFBFBF"/>
<path d="M486.4 353.5C479.67 351.38 452.64 345.03 446.04 340.8C439.44 336.57 446.83 332.33 446.79 328.1C446.76 323.87 446.17 319.63 445.86 315.4C445.54 311.17 444.04 306.93 444.92 302.7C445.79 298.47 451.11 294.23 451.11 290C451.11 285.77 447.54 281.53 444.92 277.3C442.29 273.07 436.6 268.83 435.34 264.6C434.09 260.37 436.75 256.13 437.41 251.9C438.07 247.67 438.97 241.32 439.29 239.2" stroke="#4472C4" stroke-width="2.6" fill="none" stroke-linejoin="round" stroke-linecap="round"/>
<path d="M486.4 349.7L490.2 353.5L486.4 357.3L482.6 353.5Z" fill="#4472C4"/>
<path d="M446.04 337L449.84 340.8L446.04 344.6L442.24 340.8Z" fill="#4472C4"/>
<path d="M446.79 324.3L450.59 328.1L446.79 331.9L442.99 328.1Z" fill="#4472C4"/>
<path d="M445.86 311.6L449.66 315.4L445.86 319.2L442.06 315.4Z" fill="#4472C4"/>
<path d="M444.92 298.9L448.72 302.7L444.92 306.5L441.12 302.7Z" fill="#4472C4"/>
<path d="M451.11 286.2L454.91 290L451.11 293.8L447.31 290Z" fill="#4472C4"/>
<path d="M444.92 273.5L448.72 277.3L444.92 281.1L441.12 277.3Z" fill="#4472C4"/>
<path d="M435.34 260.8L439.14 264.6L435.34 268.4L431.54 264.6Z" fill="#4472C4"/>
<path d="M437.41 248.1L441.21 251.9L437.41 255.7L433.61 251.9Z" fill="#4472C4"/>
<path d="M439.29 235.4L443.09 239.2L439.29 243L435.49 239.2Z" fill="#4472C4"/>
<path d="M465.38 353.5C465.38 351.38 467.69 345.03 465.38 340.8C463.06 336.57 453.8 332.33 451.49 328.1C449.17 323.87 453.33 319.63 451.49 315.4C449.64 311.17 441.29 306.93 440.41 302.7C439.54 298.47 446.51 294.23 446.23 290C445.95 285.77 439.88 281.53 438.72 277.3C437.57 273.07 438.88 268.83 439.29 264.6C439.69 260.37 441.26 256.13 441.16 251.9C441.07 247.67 439.13 241.32 438.72 239.2" stroke="#C00000" stroke-width="2.6" fill="none" stroke-linejoin="round" stroke-linecap="round"/>
<rect x="462.53" y="350.65" width="5.7" height="5.7" fill="none" stroke="#203864" stroke-width="1.35"/>
<rect x="462.53" y="337.95" width="5.7" height="5.7" fill="none" stroke="#203864" stroke-width="1.35"/>
<rect x="448.64" y="325.25" width="5.7" height="5.7" fill="none" stroke="#203864" stroke-width="1.35"/>
<rect x="448.64" y="312.55" width="5.7" height="5.7" fill="none" stroke="#203864" stroke-width="1.35"/>
<rect x="437.56" y="299.85" width="5.7" height="5.7" fill="none" stroke="#203864" stroke-width="1.35"/>
<rect x="443.38" y="287.15" width="5.7" height="5.7" fill="none" stroke="#203864" stroke-width="1.35"/>
<rect x="435.87" y="274.45" width="5.7" height="5.7" fill="none" stroke="#203864" stroke-width="1.35"/>
<rect x="436.44" y="261.75" width="5.7" height="5.7" fill="none" stroke="#203864" stroke-width="1.35"/>
<rect x="438.31" y="249.05" width="5.7" height="5.7" fill="none" stroke="#203864" stroke-width="1.35"/>
<rect x="435.87" y="236.35" width="5.7" height="5.7" fill="none" stroke="#203864" stroke-width="1.35"/>
<path d="M479.27 353.5C474.82 351.38 457.24 345.03 452.61 340.8C447.98 336.57 451.83 332.33 451.49 328.1C451.14 323.87 451.36 319.63 450.55 315.4C449.73 311.17 448.01 306.93 446.61 302.7C445.2 298.47 442.66 294.23 442.1 290C441.54 285.77 443.7 281.53 443.23 277.3C442.76 273.07 440.29 268.83 439.29 264.6C438.28 260.37 438.19 256.13 437.22 251.9C436.25 247.67 434.09 241.32 433.47 239.2" stroke="#595959" stroke-width="2.6" fill="none" stroke-linejoin="round" stroke-linecap="round"/>
<circle cx="479.27" cy="353.5" r="3.8" fill="#44546A"/>
<circle cx="452.61" cy="340.8" r="3.8" fill="#44546A"/>
<circle cx="451.49" cy="328.1" r="3.8" fill="#44546A"/>
<circle cx="450.55" cy="315.4" r="3.8" fill="#44546A"/>
<circle cx="446.61" cy="302.7" r="3.8" fill="#44546A"/>
<circle cx="442.1" cy="290" r="3.8" fill="#44546A"/>
<circle cx="443.23" cy="277.3" r="3.8" fill="#44546A"/>
<circle cx="439.29" cy="264.6" r="3.8" fill="#44546A"/>
<circle cx="437.22" cy="251.9" r="3.8" fill="#44546A"/>
<circle cx="433.47" cy="239.2" r="3.8" fill="#44546A"/>
<path d="M622.2 266.4H650.5" stroke="#FFC000" stroke-width="2.6" stroke-linecap="round"/>
<rect x="633" y="262.9" width="7" height="7" fill="#4472C4"/>
<text x="654.5" y="270.19" font-size="10.6" fill="#595959" stroke="#595959" stroke-width="0.2">x=1</text>
<text x="654.5" y="284.99" font-size="10.6" fill="#595959" stroke="#595959" stroke-width="0.2">0</text>
<path d="M622.2 303.3H650.5" stroke="#BFBFBF" stroke-width="2.6" stroke-linecap="round"/>
<path d="M636.5 299.4L640.4 306.8L632.6 306.8Z" fill="#BFBFBF"/>
<text x="654.5" y="307.09" font-size="10.6" fill="#595959" stroke="#595959" stroke-width="0.2">x=3</text>
<text x="654.5" y="321.89" font-size="10.6" fill="#595959" stroke="#595959" stroke-width="0.2">0</text>
</svg>
</body></html>
